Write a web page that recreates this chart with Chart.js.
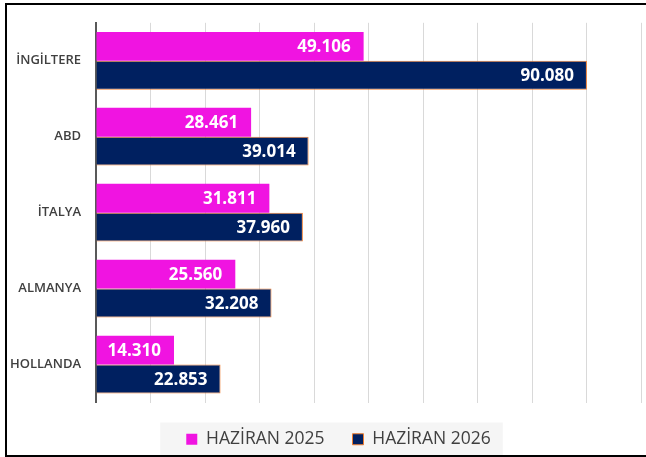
<!DOCTYPE html>
<html>
<head>
<meta charset="utf-8">
<script src="https://cdn.jsdelivr.net/npm/chart.js@4"></script>
<style>
    html, body { margin: 0; padding: 0; background: #fff; overflow: hidden; }
    #wrap { position: relative; width: 646px; height: 457px; }
    #frame {
        position: absolute; left: 5px; top: 3px; width: 641px; height: 454px;
        box-sizing: border-box; pointer-events: none;
        border-top: 2px solid #000; border-left: 2px solid #000; border-bottom: 2px solid #000;
    }
</style>
</head>
<body>
<div id="wrap">
    <canvas id="mainChart" width="646" height="457"></canvas>
    <div id="frame"></div>
</div>
<script>
// --- Veriler ---
const countries = ['İNGİLTERE', 'ABD', 'İTALYA', 'ALMANYA', 'HOLLANDA'];
const june2025 = [49106, 28461, 31811, 25560, 14310];
const june2026 = [90080, 39014, 37960, 32208, 22853];
const seriesNames = ['HAZİRAN 2025', 'HAZİRAN 2026'];

// Türkçe binlik ayırıcı
const fmt = v => String(v).replace(/\B(?=(\d{3})+(?!\d))/g, '.');

// Çubuk sonuna değer yazan eklenti
const barLabels = {
    id: 'barLabels',
    afterDatasetsDraw(chart) {
        const ctx = chart.ctx;
        ctx.save();
        ctx.font = 'bold 17px "Open Sans"';
        ctx.fillStyle = '#ffffff';
        ctx.textAlign = 'right';
        ctx.textBaseline = 'middle';
        chart.data.datasets.forEach((ds, i) => {
            chart.getDatasetMeta(i).data.forEach((bar, j) => {
                ctx.fillText(fmt(ds.data[j]), bar.x - 13, bar.y + 1);
            });
        });
        ctx.restore();
    }
};

// Lejantı biraz sağa kaydır (orijinaldeki gibi)
const legendShift = {
    id: 'legendShift',
    afterLayout(chart) {
        const lg = chart.legend;
        if (!lg) return;
        lg.left += 18;
        lg.right += 18;
    }
};

// Lejant arka planı
const legendBg = {
    id: 'legendBg',
    beforeDraw(chart) {
        const lg = chart.legend;
        if (!lg || !lg.legendHitBoxes.length) return;
        const boxes = lg.legendHitBoxes;
        const first = boxes[0], last = boxes[boxes.length - 1];
        const ctx = chart.ctx;
        ctx.save();
        ctx.fillStyle = '#F5F5F5';
        const x0 = first.left - 26;
        const x1 = last.left + last.width + 12;
        const y0 = first.top - 8;
        ctx.fillRect(x0, y0, x1 - x0, chart.height - y0);
        ctx.restore();
    }
};

const ctx = document.getElementById('mainChart').getContext('2d');
const chart = new Chart(ctx, {
    type: 'bar',
    data: {
        labels: countries,
        datasets: [
            { label: seriesNames[0], data: june2025, backgroundColor: '#F014E1', borderWidth: 0,
              categoryPercentage: 0.76, barPercentage: 1.0 },
            { label: seriesNames[1], data: june2026, backgroundColor: '#002060', borderColor: '#ED7D31', borderWidth: 1,
              categoryPercentage: 0.76, barPercentage: 1.0 }
        ]
    },
    options: {
        indexAxis: 'y',
        responsive: false,
        animation: false,
        layout: { padding: { left: 0, right: 5, top: 20, bottom: -1 } },
        scales: {
            x: {
                min: 0, max: 100000,
                ticks: { display: false, stepSize: 10000 },
                grid: { color: '#D9D9D9', lineWidth: 1, drawTicks: false },
                border: { display: false },
                afterFit: s => { s.height = 0; }
            },
            y: {
                ticks: { color: '#404040', font: { family: '"Open Sans"', size: 13, weight: '600' }, padding: 15 },
                grid: { display: false, drawTicks: false },
                border: { display: true, color: '#595959', width: 2 },
                afterFit: s => { s.width = 96; }
            }
        },
        plugins: {
            legend: {
                position: 'bottom',
                labels: {
                    boxWidth: 11, boxHeight: 11, padding: 28,
                    color: '#404040',
                    font: { family: '"Open Sans"', size: 17.5 }
                }
            },
            tooltip: { enabled: false }
        }
    },
    plugins: [legendShift, legendBg, barLabels]
});
</script>
</body>
</html>
